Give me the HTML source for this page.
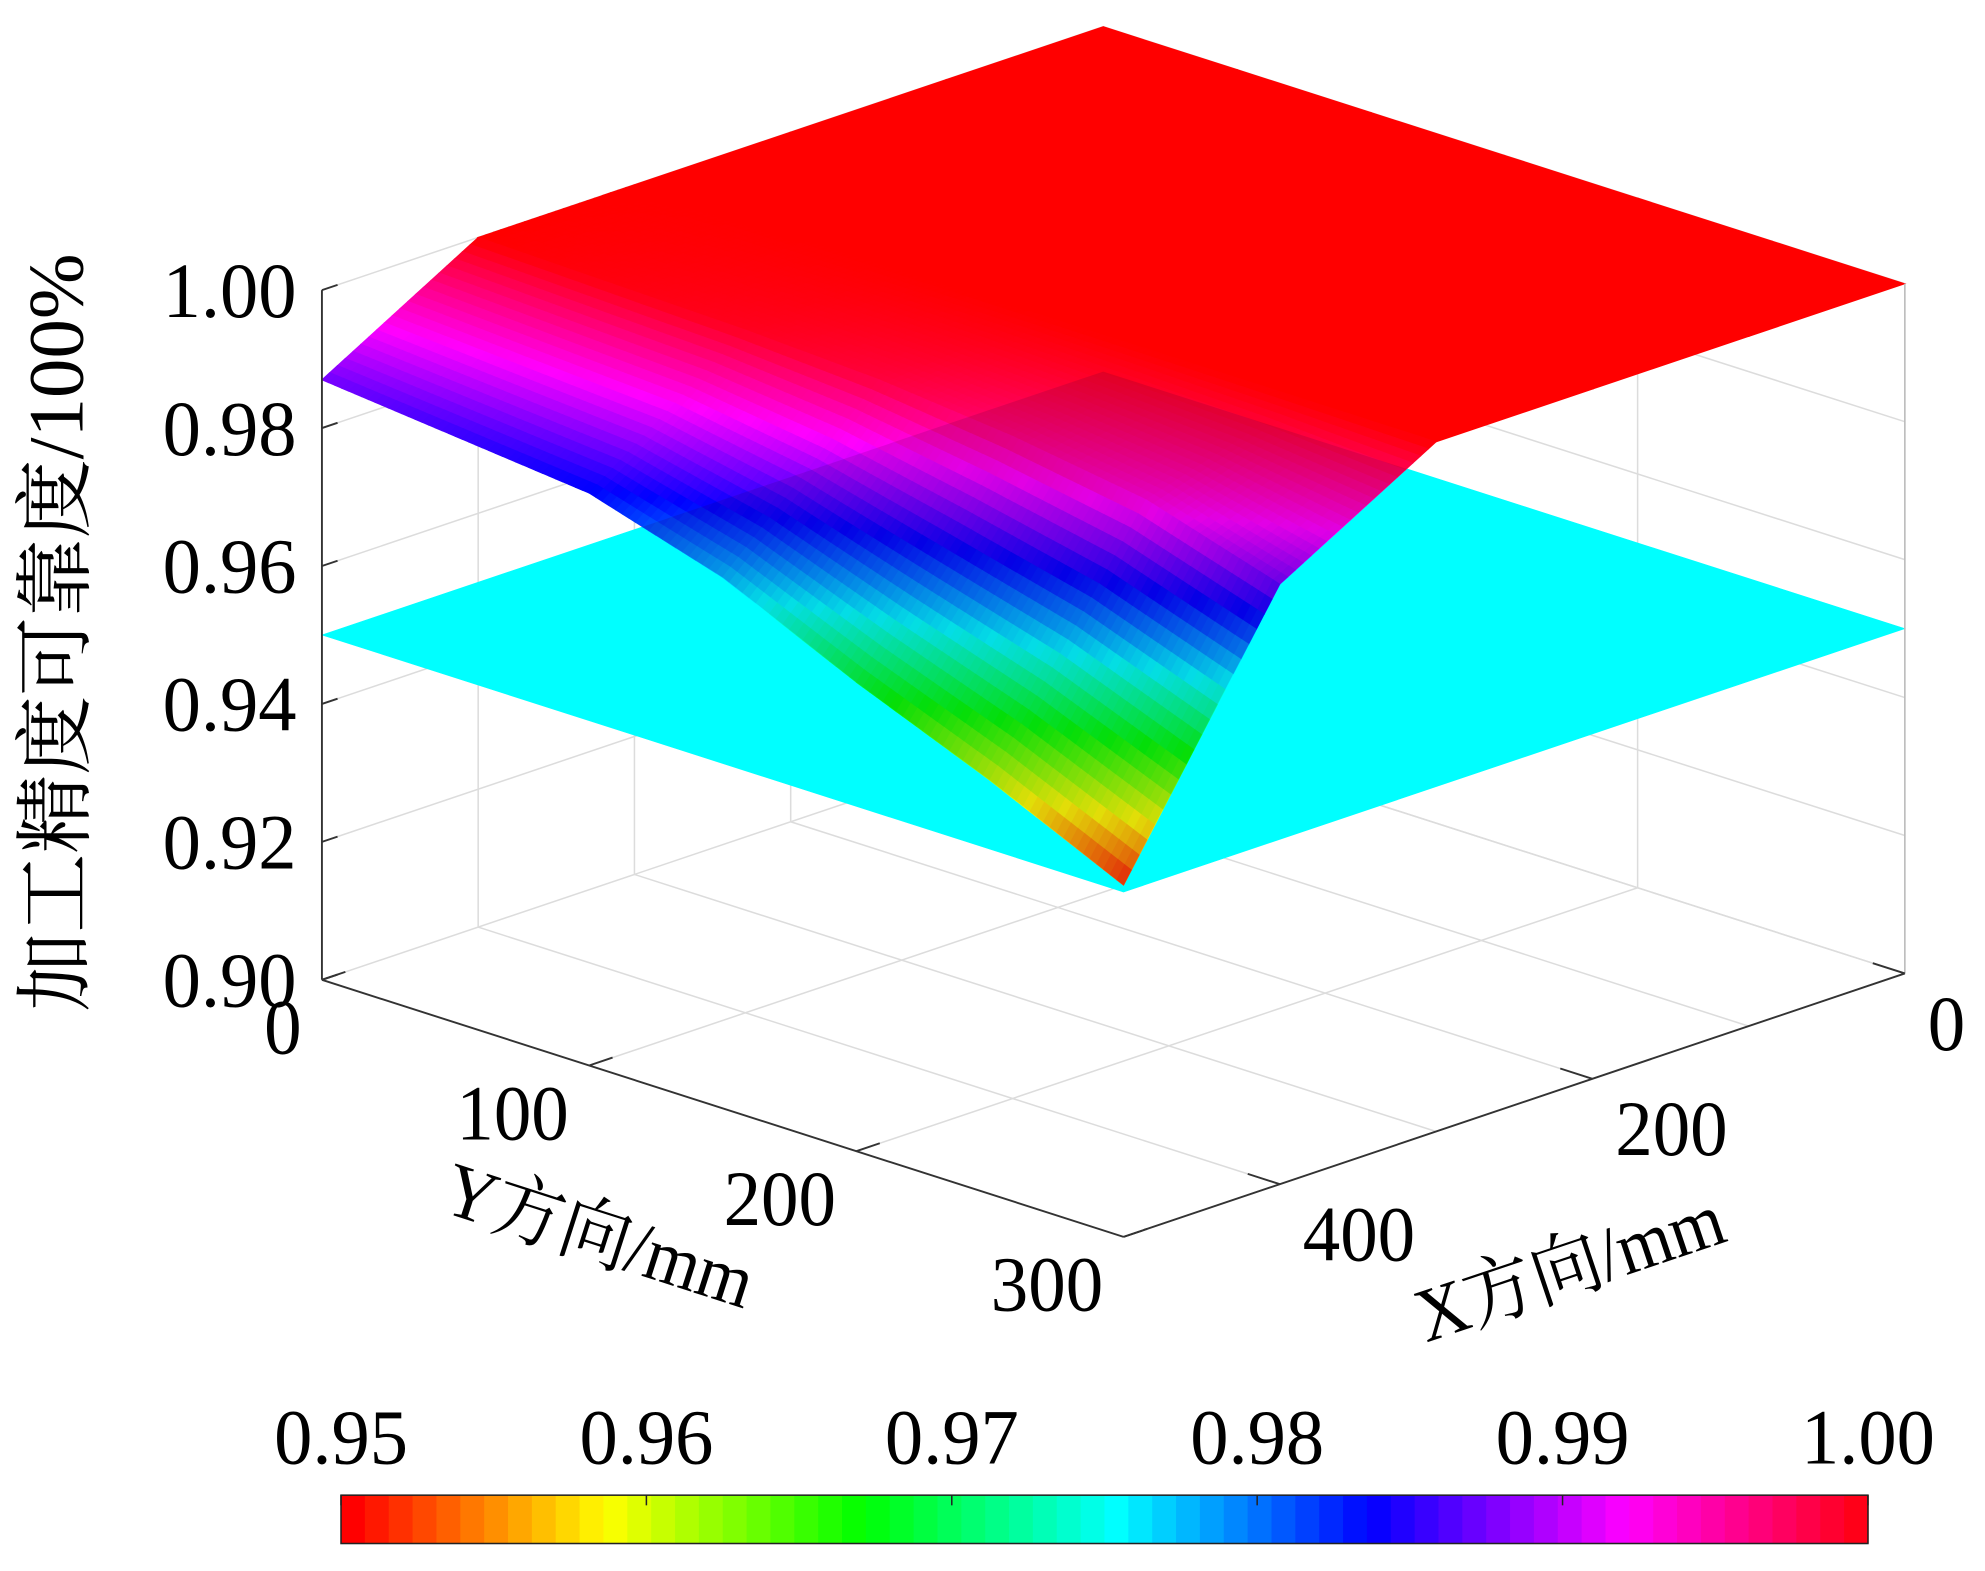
<!DOCTYPE html>
<html><head><meta charset="utf-8"><style>
html,body{margin:0;padding:0;background:#fff;}
svg{display:block;}
text{font-family:"Liberation Serif","Noto Serif CJK SC","Noto Sans CJK SC",serif;fill:#000;}
</style></head><body>
<svg id="chart" width="1985" height="1571" viewBox="0 0 1560 1234.6" preserveAspectRatio="none" xmlns="http://www.w3.org/2000/svg">
<defs><clipPath id="surfClip"><polygon id="surfOutline" points=""/></clipPath></defs>
<g id="grid"></g>
<g id="plane"></g>
<g id="surface"></g>
<g id="tint"></g>
<g id="axes"></g>
<g id="labels"></g>
<g id="cbar"></g>
</svg>
<script>
const xGrid = [0, 100, 200, 300, 400, 500];
const yGrid = [0, 50, 100, 150, 200, 250, 300];
const zRowX0 = [1, 1, 1, 1, 1, 1, 1];
const zRowX100 = [1, 1, 1, 1, 1, 1, 1];
const zRowX200 = [1, 1, 1, 1, 1, 1, 1];
const zRowX300 = [1, 1, 1, 1, 1, 1, 1];
const zRowX400 = [1.0, 0.9995, 0.999, 0.998, 0.996, 0.993, 0.987];
const zRowX500 = [0.987, 0.985, 0.983, 0.977, 0.968, 0.960, 0.951];
const planeZ = 0.95;
const zTicks = [0.90, 0.92, 0.94, 0.96, 0.98, 1.00];
const zTickLabels = ["0.90", "0.92", "0.94", "0.96", "0.98", "1.00"];
const xTicks = [0, 200, 400];
const xTickLabels = ["0", "200", "400"];
const yTicks = [0, 100, 200, 300];
const yTickLabels = ["0", "100", "200", "300"];
const cbTicks = [0.95, 0.96, 0.97, 0.98, 0.99, 1.00];
const cbTickLabels = ["0.95", "0.96", "0.97", "0.98", "0.99", "1.00"];

const zRows = [zRowX0, zRowX100, zRowX200, zRowX300, zRowX400, zRowX500];
const NS = "http://www.w3.org/2000/svg";
const CMIN = 0.95, CMAX = 1.0;
function proj(X, Y, Z) {
  return [867 + X * (-614 / 500) + Y * (630 / 300), 563 + X * (207 / 500) + Y * (202 / 300) - (Z - 0.9) * 5420];
}
function hsv(t) {
  t = Math.max(0, Math.min(1, t));
  const h = t * 6, i = Math.floor(h) % 6, f = h - Math.floor(h);
  const q = 1 - f;
  const c = [[1, f, 0], [q, 1, 0], [0, 1, f], [0, q, 1], [f, 0, 1], [1, 0, q]][i];
  return "rgb(" + c.map(v => Math.round(v * 255)).join(",") + ")";
}
function mk(tag, attrs, parent) {
  const e = document.createElementNS(NS, tag);
  for (const k in attrs) e.setAttribute(k, attrs[k]);
  parent.appendChild(e);
  return e;
}
function pts(a) { return a.map(p => p[0].toFixed(2) + "," + p[1].toFixed(2)).join(" "); }

// grid lines
const G = document.getElementById("grid");
const gs = {stroke: "#dcdcdc", "stroke-width": 1.2, fill: "none"};
zTicks.forEach(z => {
  const a = proj(500, 0, z), b = proj(0, 0, z), c = proj(0, 300, z);
  const l = mk("polyline", Object.assign({points: pts([a, b, c])}, gs), G);
  
  
});
[0, 100, 200, 300, 400].forEach(X => {
  const l = mk("polyline", Object.assign({points: pts([proj(X, 300, 0.9), proj(X, 0, 0.9), proj(X, 0, 1.0)])}, gs), G);
  
  
});
[100, 200, 300].forEach(Y => {
  const l = mk("polyline", Object.assign({points: pts([proj(500, Y, 0.9), proj(0, Y, 0.9), proj(0, Y, 1.0)])}, gs), G);
  
  
});

// plane
const P = document.getElementById("plane");
const planePts = [proj(0, 0, planeZ), proj(0, 300, planeZ), proj(500, 300, planeZ), proj(500, 0, planeZ)];
const pl = mk("polygon", {points: pts(planePts), fill: "#00ffff", stroke: "#00ffff", "stroke-width": 0.5}, P);



// surface
const S = document.getElementById("surface");
const N = 20;
const quads = [];
function zAt(i, j, u, v) {
  const z00 = zRows[i][j], z10 = zRows[i + 1][j], z01 = zRows[i][j + 1], z11 = zRows[i + 1][j + 1];
  return z00 * (1 - u) * (1 - v) + z10 * u * (1 - v) + z01 * (1 - u) * v + z11 * u * v;
}
for (let i = 0; i < xGrid.length - 1; i++) {
  for (let j = 0; j < yGrid.length - 1; j++) {
    const flat = zRows[i][j] === zRows[i + 1][j] && zRows[i][j] === zRows[i][j + 1] && zRows[i][j] === zRows[i + 1][j + 1];
    const n = flat ? 1 : N;
    for (let a = 0; a < n; a++) for (let b = 0; b < n; b++) {
      const u0 = a / n, u1 = (a + 1) / n, v0 = b / n, v1 = (b + 1) / n;
      const X = u => xGrid[i] + (xGrid[i + 1] - xGrid[i]) * u;
      const Y = v => yGrid[j] + (yGrid[j + 1] - yGrid[j]) * v;
      const c = [[u0, v0], [u1, v0], [u1, v1], [u0, v1]].map(([u, v]) => proj(X(u), Y(v), zAt(i, j, u, v)));
      const zc = zAt(i, j, (u0 + u1) / 2, (v0 + v1) / 2);
      quads.push({c, zc, d: X((u0 + u1) / 2) / 500 + Y((v0 + v1) / 2) / 300});
    }
  }
}
quads.sort((p, q) => p.d - q.d);
quads.forEach(q => {
  const col = hsv((q.zc - CMIN) / (CMAX - CMIN));
  const e = mk("polygon", {points: pts(q.c), fill: col, stroke: col, "stroke-width": 0.8}, S);
  
  
});
// outline for tint
const outline = [];
for (let j = 0; j < yGrid.length; j++) outline.push(proj(0, yGrid[j], zRows[0][j]));
for (let i = 1; i < xGrid.length; i++) outline.push(proj(xGrid[i], 300, zRows[i][yGrid.length - 1]));
for (let j = yGrid.length - 2; j >= 0; j--) outline.push(proj(500, yGrid[j], zRows[5][j]));
for (let i = xGrid.length - 2; i > 0; i--) outline.push(proj(xGrid[i], 0, zRows[i][0]));
document.getElementById("surfOutline").setAttribute("points", pts(outline));
const T = document.getElementById("tint");
const tp = mk("polygon", {points: pts(planePts), fill: "#200040", opacity: 0.13, "clip-path": "url(#surfClip)"}, T);



// axes
const A = document.getElementById("axes");
const as = {stroke: "#333", "stroke-width": 1.5, fill: "none"};
[[proj(500, 0, 0.9), proj(500, 0, 1.0)], [proj(500, 0, 0.9), proj(500, 300, 0.9)], [proj(500, 300, 0.9), proj(0, 300, 0.9)]].forEach((s, k) => {
  const l = mk("line", Object.assign({x1: s[0][0], y1: s[0][1], x2: s[1][0], y2: s[1][1]}, as), A);
  
  
});
const rl = mk("line", {x1: proj(0, 300, 0.9)[0], y1: proj(0, 300, 0.9)[1], x2: proj(0, 300, 1)[0], y2: proj(0, 300, 1)[1], stroke: "#bbb", "stroke-width": 1.2}, A);


const L = document.getElementById("labels");
function txt(s, x, y, opts, name) {
  const e = mk("text", Object.assign({x: x, y: y, "font-size": 62}, opts || {}), L);
  e.textContent = s;
  
  
  return e;
}
zTicks.forEach((z, k) => {
  const p = proj(500, 0, z), q = proj(490, 0, z);
  const l = mk("line", {x1: p[0], y1: p[1], x2: q[0] + 0, y2: q[1], stroke: "#333", "stroke-width": 1.5}, A);
  
  
  txt(zTickLabels[k], 0, 0, {"text-anchor": "end", transform: "translate(" + (p[0] - 20) + "," + (p[1] + 21) + ") scale(0.97,1)"}, 'z-tick-label');
});
yTicks.forEach((Y, k) => {
  const p = proj(500, Y, 0.9), q = proj(485, Y, 0.9);
  const l = mk("line", {x1: p[0], y1: p[1], x2: q[0], y2: q[1], stroke: "#333", "stroke-width": 1.5}, A);
  
  
  txt(yTickLabels[k], 0, 0, {"text-anchor": "end", transform: "translate(" + (p[0] - 16) + "," + (p[1] + 58) + ") scale(0.95,1)"}, 'y-tick-label');
});
xTicks.forEach((X, k) => {
  const p = proj(X, 300, 0.9), q = proj(X, 288, 0.9);
  const l = mk("line", {x1: p[0], y1: p[1], x2: q[0], y2: q[1], stroke: "#333", "stroke-width": 1.5}, A);
  
  
  txt(xTickLabels[k], 0, 0, {"text-anchor": "start", transform: "translate(" + (p[0] + 18) + "," + (p[1] + 60) + ") scale(0.95,1)"}, 'x-tick-label');
});
txt("加工精度可靠度/100%", 0, 0, {"text-anchor": "middle", transform: "translate(65,497) rotate(-90)"}, 'z-axis-title');
txt("Y方向/mm", 0, 0, {"text-anchor": "middle", "font-size": 60, transform: "translate(465,990) rotate(17.8) scale(0.92,1)"}, 'y-axis-title');
txt("X方向/mm", 0, 0, {"text-anchor": "middle", "font-size": 60, transform: "translate(1240,1015) rotate(-18.6) scale(0.92,1)"}, 'x-axis-title');

// colorbar
const C = document.getElementById("cbar");
const cbX0 = 268, cbX1 = 1468, cbY0 = 1175, cbY1 = 1213;
const nSteps = 64;
for (let k = 0; k < nSteps; k++) {
  const x = cbX0 + (cbX1 - cbX0) * k / nSteps;
  const r = mk("rect", {x: x, y: cbY0, width: (cbX1 - cbX0) / nSteps + 0.6, height: cbY1 - cbY0, fill: hsv(k / nSteps)}, C);
  
  
}
const fr = mk("rect", {x: cbX0, y: cbY0, width: cbX1 - cbX0, height: cbY1 - cbY0, fill: "none", stroke: "#222", "stroke-width": 1.2}, C);


cbTicks.forEach((v, k) => {
  const x = cbX0 + (cbX1 - cbX0) * (v - CMIN) / (CMAX - CMIN);
  const l = mk("line", {x1: x, y1: cbY0, x2: x, y2: cbY0 + 8, stroke: "#222", "stroke-width": 1.2}, C);
  
  
  const t = mk("text", {x: 0, y: 0, "font-size": 62, "text-anchor": "middle", transform: "translate(" + x + ",1150) scale(0.97,1)"}, C);
  t.textContent = cbTickLabels[k];
  
  
});
</script>
</body></html>
